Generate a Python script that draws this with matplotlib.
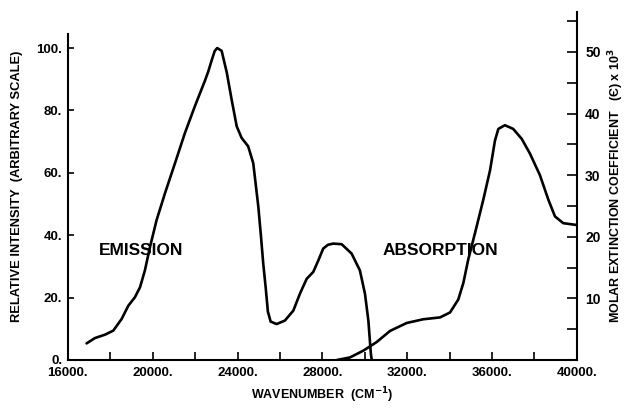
import numpy as np
import matplotlib
matplotlib.use('Agg')
import matplotlib.pyplot as plt

# emission curve (relative intensity, left axis)
em_x = [16880, 17270, 17750, 18140, 18530, 18850, 19160, 19400, 19630, 19870,
        20180, 20580, 21050, 21520, 21990, 22460, 22620, 22800, 22920, 23040,
        23250, 23490, 23720, 23960, 24190, 24500, 24740, 24980, 25100, 25210,
        25330, 25430, 25560, 25840, 26230, 26630, 26940, 27260, 27570, 27810,
        28040, 28260, 28510, 28910, 29380, 29770, 30010, 30170, 30290, 30330]
em_y = [5.3, 7.0, 8.1, 9.4, 13.1, 17.4, 20.1, 23.3, 28.7, 36.2,
        44.8, 53.5, 63.1, 72.8, 81.4, 89.5, 92.5, 96.5, 99.0, 100.0,
        99.1, 92.2, 83.5, 74.9, 71.2, 68.5, 63.1, 49.1, 40.0, 31.0,
        23.0, 15.5, 12.3, 11.5, 12.6, 15.8, 21.2, 26.0, 28.2, 31.9,
        35.7, 36.9, 37.3, 37.1, 34.1, 28.7, 21.2, 12.6, 1.8, 0.0]

# absorption curve (molar extinction coefficient x 10^3, right axis)
ab_x = [28700, 29300, 29930, 30560, 31190, 31980, 32760, 33550, 34020, 34410,
        34650, 34880, 35200, 35590, 35910, 36140, 36300, 36610, 37000, 37400,
        37790, 38260, 38660, 38970, 39360, 40000]
ab_y = [0.0, 0.4, 1.5, 2.9, 4.7, 6.0, 6.6, 6.9, 7.7, 9.8,
        12.5, 16.3, 20.6, 26.0, 30.8, 35.6, 37.5, 38.1, 37.5, 35.9,
        33.5, 30.0, 26.0, 23.3, 22.2, 21.9]

x_ticks = [16000, 20000, 24000, 28000, 32000, 36000, 40000]
x_minor = [18000, 22000, 26000, 30000, 34000, 38000]
left_ticks = [0, 20, 40, 60, 80, 100]
right_ticks = [10, 20, 30, 40, 50]
right_minor = [5, 15, 25, 35, 45, 55]

plt.rcParams['font.family'] = 'Liberation Sans'
plt.rcParams['font.weight'] = 'bold'
plt.rcParams['mathtext.default'] = 'bf'

fig = plt.figure(figsize=(6.29, 4.09), dpi=100)
ax = fig.add_axes([0.108, 0.120, 0.809, 0.851])
ax2 = ax.twinx()

ax.plot(em_x, em_y, color='black', linewidth=1.9,
        solid_capstyle='round', solid_joinstyle='round')
ax2.plot(ab_x, ab_y, color='black', linewidth=1.9,
         solid_capstyle='round', solid_joinstyle='round')

ax.set_xlim(16000, 40000)
ax.set_ylim(0, 111.6)
ax2.set_ylim(0, 56.5)

ax.spines['top'].set_visible(False)
ax2.spines['top'].set_visible(False)
ax.spines['right'].set_visible(False)
ax2.spines['left'].set_visible(False)
ax2.spines['bottom'].set_visible(False)
ax.spines['left'].set_bounds(0, 104.5)
for s in ['left', 'bottom']:
    ax.spines[s].set_linewidth(1.5)
ax2.spines['right'].set_linewidth(1.5)

ax.set_xticks(x_ticks)
ax.set_xticklabels([f'{v}.' for v in x_ticks])
ax.set_xticks(x_minor, minor=True)
ax.set_yticks(left_ticks)
ax.set_yticklabels([f'{v}.' for v in left_ticks])
ax2.set_yticks(right_ticks)
ax2.set_yticklabels([str(v) for v in right_ticks])
ax2.set_yticks(right_minor, minor=True)

ax.tick_params(axis='x', which='both', direction='in', length=6, width=1.2,
               labelsize=9.5, pad=5)
ax.tick_params(axis='y', which='both', direction='in', length=4, width=1.2,
               labelsize=9.5, pad=4)
ax2.tick_params(axis='y', which='both', direction='in', length=7, width=1.2,
                labelsize=10, pad=6)

ax.set_xlabel('WAVENUMBER  (CM$^{-1}$)', fontsize=9, fontweight='bold',
              labelpad=5)
ax.set_ylabel('RELATIVE INTENSITY  (ARBITRARY SCALE)', fontsize=9.3,
              fontweight='bold', labelpad=10)
ax2.set_ylabel('MOLAR EXTINCTION COEFFICIENT   (Є) x 10$^{3}$',
               fontsize=9, fontweight='bold', labelpad=4)

ax.text(19440, 35, 'EMISSION', fontsize=12.5, fontweight='bold',
        ha='center', va='center')
ax.text(33550, 35, 'ABSORPTION', fontsize=12.5, fontweight='bold',
        ha='center', va='center')

fig.savefig('out.png', dpi=100)
